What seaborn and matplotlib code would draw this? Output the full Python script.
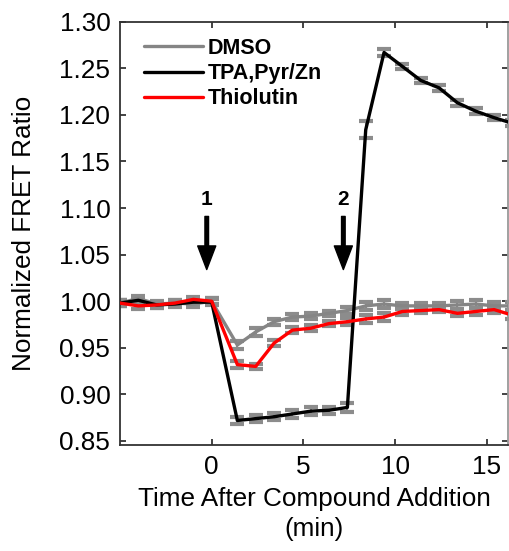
import numpy as np
import pandas as pd
import matplotlib
matplotlib.use("Agg")
import matplotlib.pyplot as plt
import seaborn as sns

# ---- data ----
times = [-5, -4, -3, -2, -1, 0, 1.4, 2.4, 3.4, 4.4, 5.4, 6.4, 7.4,
         8.4, 9.4, 10.4, 11.4, 12.4, 13.4, 14.4, 15.4, 16.4]
dmso = [0.998, 1.003, 0.997, 0.998, 0.997, 1.000, 0.953, 0.967, 0.978, 0.983,
        0.984, 0.987, 0.990, 0.995, 0.997, 0.995, 0.995, 0.995, 0.996, 0.997,
        0.995, 0.995]
dmso_err = [0.003, 0.003, 0.003, 0.003, 0.003, 0.003, 0.004, 0.004, 0.003, 0.003,
            0.003, 0.003, 0.004, 0.004, 0.004, 0.003, 0.003, 0.003, 0.004, 0.004,
            0.004, 0.004]
tpa = [0.998, 1.001, 0.996, 0.997, 0.999, 0.999, 0.872, 0.874, 0.876, 0.879,
       0.882, 0.883, 0.886, 1.184, 1.267, 1.252, 1.237, 1.229, 1.213, 1.204,
       1.197, 1.191]
tpa_err = [0.003, 0.003, 0.003, 0.003, 0.003, 0.003, 0.004, 0.004, 0.004, 0.004,
           0.004, 0.004, 0.005, 0.009, 0.004, 0.003, 0.003, 0.003, 0.003, 0.003,
           0.003, 0.003]
thio = [0.998, 0.995, 0.996, 0.998, 1.002, 1.000, 0.932, 0.930, 0.955, 0.969,
        0.971, 0.976, 0.978, 0.981, 0.983, 0.989, 0.990, 0.991, 0.987, 0.989,
        0.991, 0.985]
thio_err = [0.003, 0.003, 0.003, 0.003, 0.003, 0.003, 0.004, 0.003, 0.003, 0.003,
            0.003, 0.003, 0.004, 0.004, 0.004, 0.004, 0.003, 0.003, 0.003, 0.004,
            0.004, 0.004]
conditions = ["DMSO", "TPA,Pyr/Zn", "Thiolutin"]
yticks = [0.85, 0.90, 0.95, 1.00, 1.05, 1.10, 1.15, 1.20, 1.25, 1.30]
xticks = [0, 5, 10, 15]
arrow_times = [-0.27, 7.18]
arrow_labels = ["1", "2"]

df = pd.DataFrame({
    "time": times * 3,
    "ratio": dmso + tpa + thio,
    "err": dmso_err + tpa_err + thio_err,
    "condition": [conditions[0]] * len(times) + [conditions[1]] * len(times)
                 + [conditions[2]] * len(times),
})

sns.set_style("ticks")
plt.rcParams["font.family"] = ["Liberation Sans", "DejaVu Sans"]
plt.rcParams["text.color"] = "black"
plt.rcParams["axes.labelcolor"] = "black"

fig = plt.figure(figsize=(5.10, 5.51), dpi=100)
ax = fig.add_axes([0.2353, 0.1924, 0.7608, 0.7682])

palette = {"DMSO": "#858585", "TPA,Pyr/Zn": "#000000", "Thiolutin": "#ff0000"}

for cond in conditions:
    sub = df[df["condition"] == cond]
    ax.errorbar(sub["time"], sub["ratio"], yerr=sub["err"], fmt="none",
                ecolor="#8c8c8c", elinewidth=1.5, capsize=5, capthick=3,
                zorder=2)

sns.lineplot(data=df, x="time", y="ratio", hue="condition", hue_order=conditions,
             palette=palette, linewidth=2.4, ax=ax, errorbar=None, zorder=3)

for t, lab in zip(arrow_times, arrow_labels):
    ax.annotate("", xy=(t, 1.034), xytext=(t, 1.091),
                arrowprops=dict(facecolor="black", edgecolor="black", width=2.6,
                                headwidth=13, headlength=17, shrink=0))
    ax.text(t, 1.1096, lab, ha="center", va="center", fontsize=15,
            fontweight="bold", color="black")

ax.set_xlim(-5.0, 16.16)
ax.set_ylim(0.8457, 1.30)
ax.set_xticks(xticks)
ax.set_yticks(yticks)
ax.set_yticklabels([f"{v:.2f}" for v in yticks])
ax.tick_params(direction="in", top=True, right=True, length=4, width=1.2,
               labelsize=18.8, pad=7, colors="#222222", labelcolor="black")
for s in ax.spines.values():
    s.set_color("#333333")
    s.set_linewidth(1.3)
ax.spines["right"].set_color("#999999")

ax.set_xlabel("Time After Compound Addition\n(min)", fontsize=18.8,
              linespacing=1.3, labelpad=6, color="black")
ax.set_ylabel("Normalized FRET Ratio", fontsize=18.8, labelpad=17,
              color="black")

leg = ax.legend(loc="upper left", bbox_to_anchor=(0.02, 1.0), frameon=False,
                prop={"weight": "bold", "size": 15.5}, handlelength=2.75,
                handletextpad=0.2, labelspacing=0.2, borderaxespad=0.35,
                labelcolor="black")
for line in leg.get_lines():
    line.set_linewidth(2.4)

fig.savefig("out.png", dpi=100)
